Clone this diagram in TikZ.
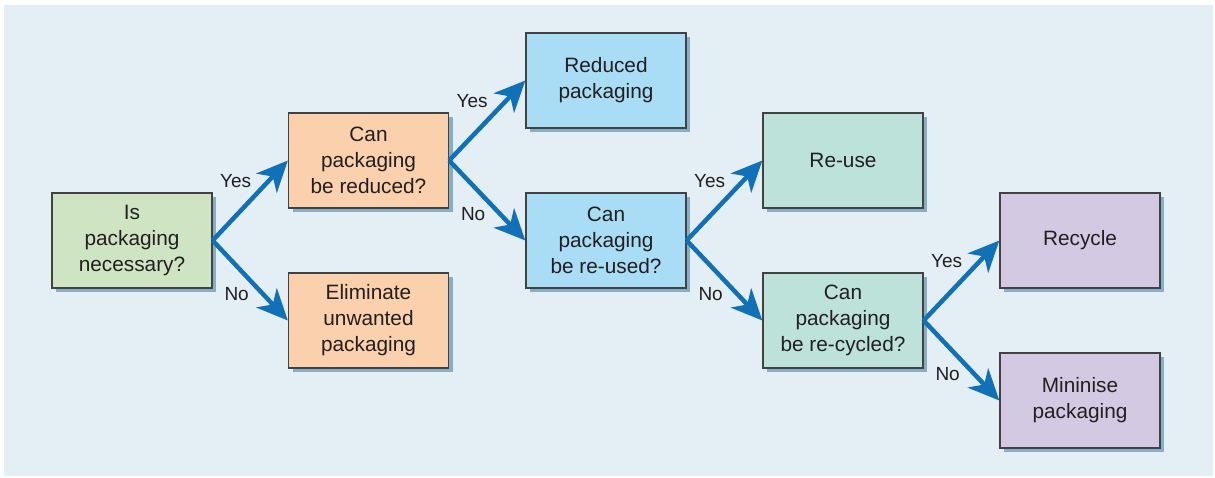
\documentclass[tikz,border=0pt]{standalone}
\usepackage{fontspec}
\setmainfont{Liberation Sans}
\usetikzlibrary{arrows.meta,shadows,calc}
\definecolor{panel}{HTML}{E3EEF5}
\definecolor{shadowc}{HTML}{86AEC6}
\definecolor{cgreen}{HTML}{CFE4C3}
\definecolor{cpeach}{HTML}{FBD0AC}
\definecolor{cblue}{HTML}{A8DDF5}
\definecolor{cmint}{HTML}{BCE2D9}
\definecolor{clav}{HTML}{D4C9E3}
\definecolor{arrowc}{HTML}{1071B8}
\definecolor{txt}{HTML}{231F20}
\tikzset{
  box/.style={draw=txt!85, line width=1.3pt, minimum width=160pt, minimum height=95pt,
    inner sep=2pt, align=center, text=txt,
    font=\fontsize{20.8}{26}\selectfont,
    drop shadow={shadow xshift=4pt, shadow yshift=-4pt, fill=shadowc, opacity=1}},
  link/.style={draw=arrowc, line width=4.5pt,
    -{Stealth[length=31pt,width=28pt,inset=9pt]}},
  lab/.style={text=txt, font=\fontsize{19}{22}\selectfont, inner sep=0pt}
}
\begin{document}
\begin{tikzpicture}[x=1pt,y=-1pt]
\useasboundingbox (0,0) rectangle (1215,477);
\fill[panel] (4,5) rectangle (1213,476);
\node[box, fill=cgreen] (b1) at (132,240.5) {Is\\packaging\\necessary?};
\node[box, fill=cpeach] (b2) at (368.5,160.5) {Can\\packaging\\be reduced?};
\node[box, fill=cpeach] (b3) at (368.5,320.5) {Eliminate\\unwanted\\packaging};
\node[box, fill=cblue] (b4) at (606,80.5) {Reduced\\packaging};
\node[box, fill=cblue] (b5) at (606,240.5) {Can\\packaging\\be re-used?};
\node[box, fill=cmint] (b6) at (843,160.5) {Re-use};
\node[box, fill=cmint] (b7) at (843,320.5) {Can\\packaging\\be re-cycled?};
\node[box, fill=clav] (b8) at (1080,240.5) {Recycle};
\node[box, fill=clav] (b9) at (1080,400.5) {Mininise\\packaging};
\draw[link] (b1.east) -- (b2.west);
\draw[link] (b1.east) -- (b3.west);
\draw[link] (b2.east) -- (b4.west);
\draw[link] (b2.east) -- (b5.west);
\draw[link] (b5.east) -- (b6.west);
\draw[link] (b5.east) -- (b7.west);
\draw[link] (b7.east) -- (b8.west);
\draw[link] (b7.east) -- (b9.west);
\node[lab] (y1) at ($(b1.east)+(23,-59)$) {Yes};
\node[lab] (n1) at ($(b1.east)+(24,54)$) {No};
\node[lab] (y2) at ($(b2.east)+(23,-59)$) {Yes};
\node[lab] (n2) at ($(b2.east)+(24,54)$) {No};
\node[lab] (y3) at ($(b5.east)+(23,-59)$) {Yes};
\node[lab] (n3) at ($(b5.east)+(24,54)$) {No};
\node[lab] (y4) at ($(b7.east)+(23,-59)$) {Yes};
\node[lab] (n4) at ($(b7.east)+(24,54)$) {No};
\end{tikzpicture}
\end{document}
